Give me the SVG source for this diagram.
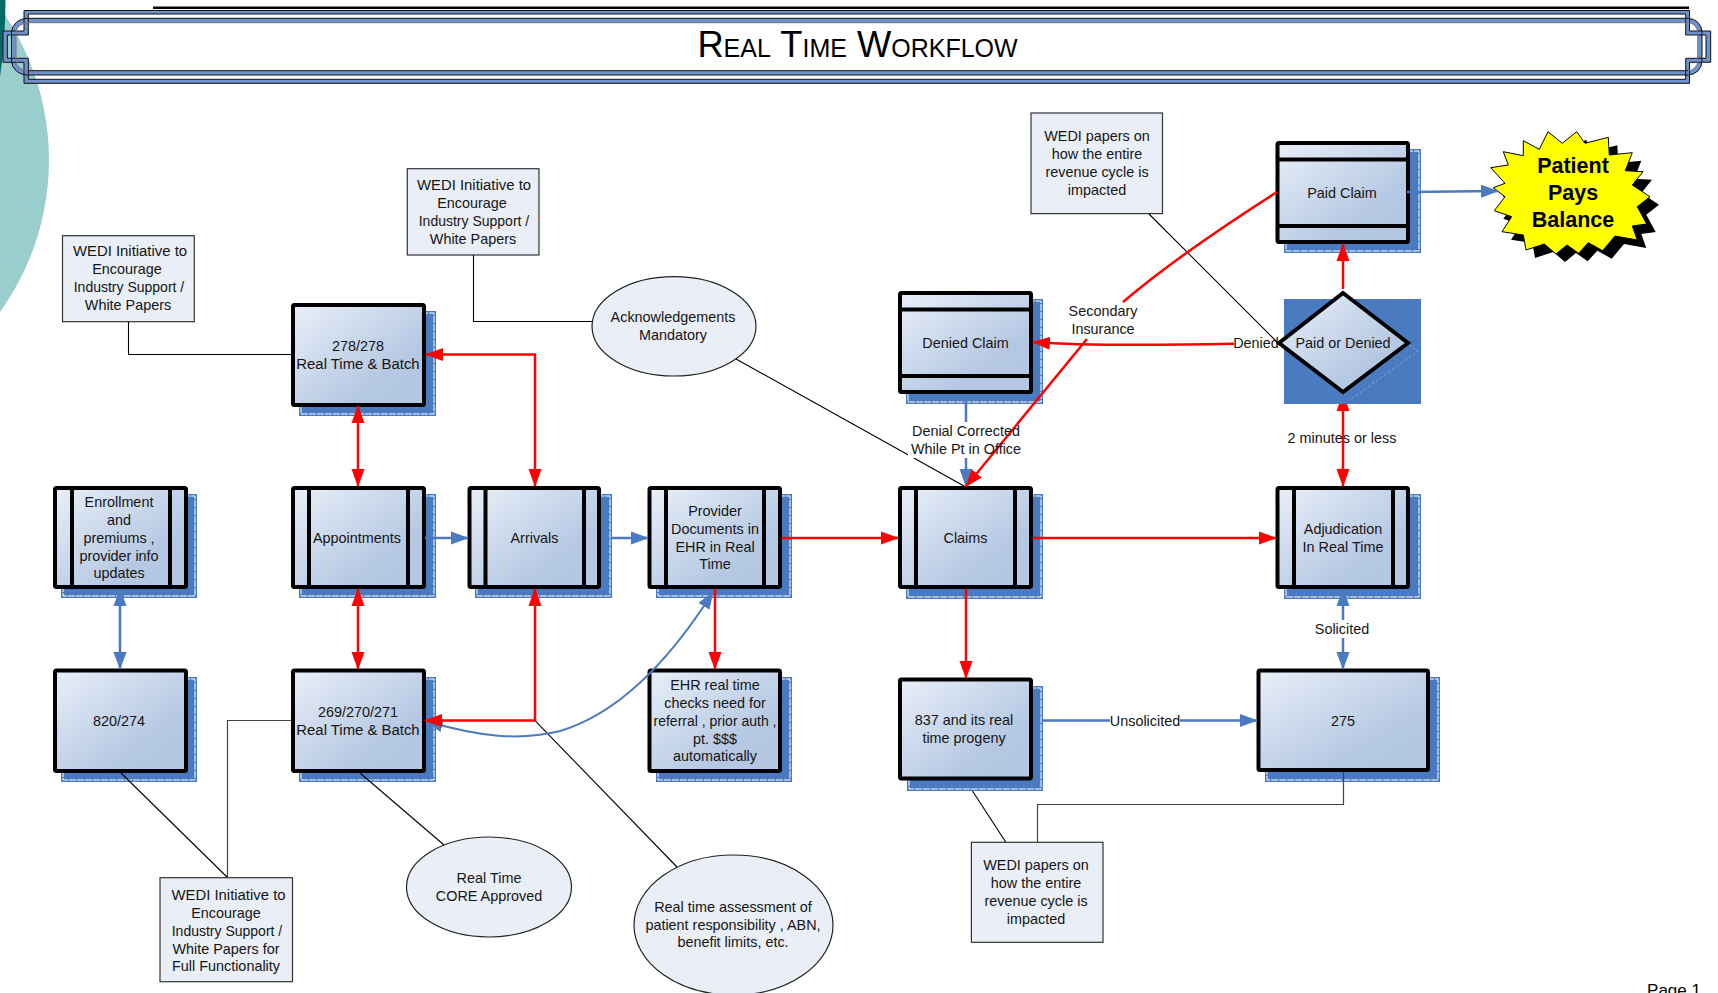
<svg xmlns="http://www.w3.org/2000/svg" width="1718" height="993" viewBox="0 0 1718 993">
<style>
text{font-family:"Liberation Sans",Arial,sans-serif;font-size:14.4px;fill:#151515;text-anchor:middle;transform:translateY(-0.3px)}
.wide{font-size:14.9px}
.nar{font-size:14px}
.star{font-size:21.5px;font-weight:bold;fill:#000;transform:none}
.box{fill:url(#g);stroke:#000;stroke-width:4}
.sh{fill:#4A7ABF}
.da{fill:none;stroke:#fff;stroke-width:1;stroke-dasharray:7 1}
.div{stroke:#000;stroke-width:4;fill:none}
.note{fill:#E9EEF7;stroke:#333;stroke-width:1.2}
.ell{fill:#E9EEF7;stroke:#222;stroke-width:1.2}
.r{fill:none;stroke:#F00;stroke-width:2.5}
.b{fill:none;stroke:#4A7ABF;stroke-width:2.5}
.t{fill:none;stroke:#000;stroke-width:1.1}
.gy{fill:none;stroke:#444;stroke-width:1.2}
.wb{fill:#fff}
</style>
<defs>
<linearGradient id="g" x1="0" y1="0" x2="1" y2="1"><stop offset="0" stop-color="#E9EFF8"/><stop offset="0.7" stop-color="#B5C8E3"/><stop offset="1" stop-color="#B3C7E2"/></linearGradient>
<marker id="ar" markerUnits="userSpaceOnUse" markerWidth="18" markerHeight="14" viewBox="0 0 18 14" refX="17" refY="7" orient="auto-start-reverse"><path d="M0,0.5 L18,7 L0,13.5 Z" fill="#F00"/></marker>
<marker id="ab" markerUnits="userSpaceOnUse" markerWidth="18" markerHeight="14" viewBox="0 0 18 14" refX="17" refY="7" orient="auto-start-reverse"><path d="M0,0.5 L18,7 L0,13.5 Z" fill="#4A7ABF"/></marker>
</defs>
<rect width="1718" height="993" fill="#fff"/>
<g id="background">
<circle cx="-211" cy="160" r="260" fill="#9BCFCE"/>
<path d="M0,0 H5.5 Q5.5,40 0,77 Z" fill="#006B66"/>
</g>
<g id="title">
<path d="M153,7.8 H1689" stroke="#000" stroke-width="2.4" fill="none"/>
<path fill="#6F92CB" fill-rule="evenodd" d="M24,10.5 H1689.5 V31 H1710.7 V62.3 H1689.5 V83.3 H24 V62.3 H3 V31 H24 Z M28.3,14 V35 H7.3 V58.3 H28.3 V79.3 H1685.7 V58.3 H1706 V35 H1685.7 V14 Z"/>
<path fill="#6F92CB" fill-rule="evenodd" d="M28,18.3 H1688 A14,14 0 0 1 1702,32.3 V61 A14,14 0 0 1 1688,75 H28 A16.5,14 0 0 1 11.5,61 V32.3 A16.5,14 0 0 1 28,18.3 Z M28,22.7 A12,10 0 0 0 16,32.7 V60.7 A12,10 0 0 0 28,70.7 H1688 A9.7,10 0 0 0 1697.7,60.7 V32.7 A9.7,10 0 0 0 1688,22.7 Z"/>
<path fill="none" stroke="#111" stroke-width="1" d="M24,10.5 H1689.5 V31 H1710.7 V62.3 H1689.5 V83.3 H24 V62.3 H3 V31 H24 Z M28.3,14 V35 H7.3 V58.3 H28.3 V79.3 H1685.7 V58.3 H1706 V35 H1685.7 V14 Z"/>
<path fill="none" stroke="#111" stroke-width="1" d="M28,18.3 H1688 A14,14 0 0 1 1702,32.3 V61 A14,14 0 0 1 1688,75 H28 A16.5,14 0 0 1 11.5,61 V32.3 A16.5,14 0 0 1 28,18.3 Z"/>
<path fill="none" stroke="#777" stroke-width="1" d="M28,22.7 H1688 A9.7,10 0 0 1 1697.7,32.7 V60.7 A9.7,10 0 0 1 1688,70.7 M28,22.7 A12,10 0 0 0 16,32.7 V60.7 A12,10 0 0 0 28,70.7"/>
<path fill="none" stroke="#111" stroke-width="1" d="M28,70.7 H1688"/>
<text x="857.500" y="57" style="font-size:36.3px;font-variant:small-caps;fill:#000;transform:none">Real Time Workflow</text>
</g>

<g id="n-enrollment"><rect class="sh" x="61" y="494" width="136" height="104"/><rect class="da" x="63" y="496" width="132" height="100"/><rect class="box" x="55" y="488" width="131" height="99" rx="1.5"/><path class="div" d="M72,488V587M170,488V587"/><text x="119" y="507">Enrollment</text><text x="119" y="525">and</text><text x="119" y="543">premiums ,</text><text x="119" y="561">provider info</text><text x="119" y="578">updates</text></g>
<g id="n-820"><rect class="sh" x="61" y="677" width="136" height="105"/><rect class="da" x="63" y="679" width="132" height="101"/><rect class="box" x="55" y="670.500" width="131" height="100.500" rx="1.5"/><text x="119" y="726">820/274</text></g>
<g id="n-278"><rect class="sh" x="299" y="311" width="137" height="105"/><rect class="da" x="301" y="313" width="133" height="101"/><rect class="box" x="293" y="305" width="131" height="100" rx="1.5"/><text x="358" y="351">278/278</text><text class="wide" x="358" y="369">Real Time &amp; Batch</text></g>
<g id="n-appointments"><rect class="sh" x="299" y="494" width="137" height="104"/><rect class="da" x="301" y="496" width="133" height="100"/><rect class="box" x="293" y="488" width="131" height="99" rx="1.5"/><path class="div" d="M309,488V587M408,488V587"/><text x="357" y="543">Appointments</text></g>
<g id="n-269"><rect class="sh" x="299" y="677" width="137" height="105"/><rect class="da" x="301" y="679" width="133" height="101"/><rect class="box" x="293" y="670.500" width="131" height="100.500" rx="1.5"/><text x="358" y="717">269/270/271</text><text class="wide" x="358" y="735">Real Time &amp; Batch</text></g>
<g id="n-arrivals"><rect class="sh" x="475" y="494" width="137" height="104"/><rect class="da" x="477" y="496" width="133" height="100"/><rect class="box" x="469.500" y="488" width="129.500" height="99" rx="1.5"/><path class="div" d="M485.500,488V587M584,488V587"/><text x="534.500" y="543">Arrivals</text></g>
<g id="n-provider"><rect class="sh" x="656" y="494" width="136" height="104"/><rect class="da" x="658" y="496" width="132" height="100"/><rect class="box" x="649.500" y="488" width="130.500" height="99" rx="1.5"/><path class="div" d="M666,488V587M764,488V587"/><text x="715" y="516">Provider</text><text x="715" y="534">Documents in</text><text x="715" y="552">EHR in Real</text><text x="715" y="569">Time</text></g>
<g id="n-ehr"><rect class="sh" x="656" y="677" width="136" height="105"/><rect class="da" x="658" y="679" width="132" height="101"/><rect class="box" x="649.500" y="670.500" width="130.500" height="100.500" rx="1.5"/><text x="715" y="690">EHR real time</text><text x="715" y="708">checks need for</text><text class="nar" x="715" y="726">referral , prior auth ,</text><text x="715" y="744">pt. $$$</text><text x="715" y="761">automatically</text></g>
<g id="n-denied"><rect class="sh" x="906" y="299" width="137" height="105"/><rect class="da" x="908" y="301" width="133" height="101"/><rect class="box" x="900" y="293" width="131" height="99" rx="1.5"/><path class="div" d="M900,309.500H1031M900,376H1031"/><text x="965.500" y="348">Denied Claim</text></g>
<g id="n-claims"><rect class="sh" x="906" y="494" width="137" height="105"/><rect class="da" x="908" y="496" width="133" height="101"/><rect class="box" x="900" y="488" width="131" height="99" rx="1.5"/><path class="div" d="M916,488V587M1015,488V587"/><text x="965.500" y="543">Claims</text></g>
<g id="n-837"><rect class="sh" x="907" y="686" width="136" height="105"/><rect class="da" x="909" y="688" width="132" height="101"/><rect class="box" x="900" y="679.500" width="131" height="99" rx="1.5"/><text x="964" y="725">837 and its real</text><text x="964" y="743">time progeny</text></g>
<g id="n-paid"><rect class="sh" x="1284" y="149" width="137" height="104"/><rect class="da" x="1286" y="151" width="133" height="100"/><rect class="box" x="1277.500" y="143" width="130.500" height="99" rx="1.5"/><path class="div" d="M1278,159.500H1408M1278,226H1408"/><text x="1342" y="198">Paid Claim</text></g>
<g id="n-adjudication"><rect class="sh" x="1284" y="494" width="137" height="105"/><rect class="da" x="1286" y="496" width="133" height="101"/><rect class="box" x="1277.500" y="488" width="130.500" height="99" rx="1.5"/><path class="div" d="M1294,488V587M1393,488V587"/><text x="1343" y="534">Adjudication</text><text x="1343" y="552">In Real Time</text></g>
<g id="n-275"><rect class="sh" x="1265" y="677" width="175" height="105"/><rect class="da" x="1267" y="679" width="171" height="101"/><rect class="box" x="1258.500" y="670.500" width="169.500" height="99.500" rx="1.5"/><text x="1343" y="726">275</text></g>
<g id="n-wedi1"><rect class="note" x="62.500" y="235.700" width="131.800" height="86"/><text class="wide" x="130" y="256">WEDI Initiative to</text><text x="127" y="274">Encourage</text><text class="nar" x="129" y="292">Industry Support /</text><text x="128" y="310">White Papers</text></g>
<g id="n-wedi2"><rect class="note" x="407.300" y="168.700" width="131.700" height="86.300"/><text class="wide" x="474" y="190">WEDI Initiative to</text><text x="472" y="208">Encourage</text><text class="nar" x="474" y="226">Industry Support /</text><text x="473" y="244">White Papers</text></g>
<g id="n-wedi3"><rect class="note" x="1031" y="113" width="131.500" height="100.600"/><text x="1097" y="141">WEDI papers on</text><text x="1097" y="159">how the entire</text><text x="1097" y="177">revenue cycle is</text><text x="1097" y="195">impacted</text></g>
<g id="n-wedi4"><rect class="note" x="160" y="877.700" width="132.500" height="104"/><text class="wide" x="228.500" y="900">WEDI Initiative to</text><text x="226" y="918">Encourage</text><text class="nar" x="227" y="936">Industry Support /</text><text x="226" y="954">White Papers for</text><text x="226" y="971">Full Functionality</text></g>
<g id="n-wedi5"><rect class="note" x="971.400" y="842.300" width="131.600" height="100"/><text x="1036" y="870">WEDI papers on</text><text x="1036" y="888">how the entire</text><text x="1036" y="906">revenue cycle is</text><text x="1036" y="924">impacted</text></g>
<g id="n-ack"><ellipse class="ell" cx="674" cy="326.300" rx="82" ry="49.700"/><text x="673" y="322.700">Acknowledgements</text><text x="673" y="340">Mandatory</text></g>
<g id="n-core"><ellipse class="ell" cx="489" cy="887" rx="82.500" ry="50"/><text x="489" y="883.700">Real Time</text><text x="489" y="901">CORE Approved</text></g>
<g id="n-assess"><ellipse class="ell" cx="733.500" cy="925" rx="99.500" ry="70"/><text x="733" y="912">Real time assessment of</text><text x="733" y="930">patient responsibility , ABN,</text><text x="733" y="947">benefit limits, etc.</text></g>
<g id="n-star">
<polygon transform="translate(9,8)" fill="#000" points="1548,131.700 1562.300,143.300 1576.700,131.700 1585,143.300 1608.300,137.300 1609.300,155 1632.300,152.700 1625.300,170.700 1643,171.700 1632.300,185 1650,196.700 1637.300,206.700 1646.700,224 1632.300,226 1637.300,240 1615,236 1602.700,250.700 1588.300,242.700 1578.700,253.300 1567,245 1556,254 1544.300,244 1526,250 1523.300,235 1502,231.700 1511.700,216.700 1494.300,210.700 1505,196.700 1493.300,187.700 1505,183.300 1490.700,167.700 1508.300,165 1503.300,151.700 1523.300,155.700 1523.300,140.700 1539.300,149.300"/>
<polygon fill="#FF0" stroke="#000" stroke-width="1" points="1548,131.700 1562.300,143.300 1576.700,131.700 1585,143.300 1608.300,137.300 1609.300,155 1632.300,152.700 1625.300,170.700 1643,171.700 1632.300,185 1650,196.700 1637.300,206.700 1646.700,224 1632.300,226 1637.300,240 1615,236 1602.700,250.700 1588.300,242.700 1578.700,253.300 1567,245 1556,254 1544.300,244 1526,250 1523.300,235 1502,231.700 1511.700,216.700 1494.300,210.700 1505,196.700 1493.300,187.700 1505,183.300 1490.700,167.700 1508.300,165 1503.300,151.700 1523.300,155.700 1523.300,140.700 1539.300,149.300"/>
<text class="star" x="1573" y="173">Patient</text><text class="star" x="1573" y="200">Pays</text><text class="star" x="1573" y="227">Balance</text>
</g>

<g id="connectors">
<path class="t" d="M128.500,322V354.500H291"/>
<path class="t" d="M473.500,255V321.500H592"/>
<path class="t" d="M736,359L964,486"/>
<path class="t" d="M1149,214L1278,343"/>
<path class="gy" d="M291,720.500H227.500V878"/>
<path class="t" d="M121,773L227,877" stroke-width="1.4"/>
<path class="t" d="M360,773L444,845"/>
<path class="t" d="M535,720.600L677,867"/>
<path class="t" d="M972.500,791L1005.700,842"/>
<path class="gy" d="M1343.500,772V804.500H1037.500V842"/>
<path class="b" marker-start="url(#ab)" marker-end="url(#ab)" d="M120,589V669"/>
<path class="b" marker-end="url(#ab)" d="M425,538H468"/>
<path class="b" marker-end="url(#ab)" d="M611,538H648"/>
<path class="b" marker-end="url(#ab)" d="M1043,720.600H1257"/>
<path class="b" marker-start="url(#ab)" marker-end="url(#ab)" d="M1343,589V669"/>
<path class="b" marker-end="url(#ab)" d="M1407,192L1498,191"/>
<path class="b" marker-end="url(#ab)" d="M966,394V486"/>
<path class="b" style="stroke-width:2" marker-start="url(#ab)" marker-end="url(#ab)" d="M426,721C480,737 520,741 560,731C620,713 670,660 713,592"/>
<rect class="wb" x="908" y="422" width="116" height="36"/>
<rect class="wb" x="1110" y="712" width="70" height="18"/>
<rect class="wb" x="1312" y="620" width="62" height="18"/>
<rect class="wb" x="1283" y="429" width="120" height="18"/>
<path class="r" marker-start="url(#ar)" marker-end="url(#ar)" d="M358,589V669"/>
<path class="r" marker-start="url(#ar)" marker-end="url(#ar)" d="M358,406V486"/>
<path class="r" marker-start="url(#ar)" marker-end="url(#ar)" d="M426,354.500H535V486"/>
<path class="r" marker-start="url(#ar)" marker-end="url(#ar)" d="M535,589V720.600H425"/>
<path class="r" marker-end="url(#ar)" d="M782,538H898"/>
<path class="r" marker-end="url(#ar)" d="M1033,538H1276"/>
<path class="r" marker-end="url(#ar)" d="M715,589V669"/>
<path class="r" marker-end="url(#ar)" d="M966,589V678"/>
<path class="r" marker-start="url(#ar)" marker-end="url(#ar)" d="M1343,394V486"/>
<path class="r" marker-end="url(#ar)" d="M1343,289V244"/>
<path class="r" marker-end="url(#ar)" d="M1234,343.700C1150,345.500 1080,345.500 1033,342"/>
<rect class="wb" x="1066" y="303" width="74" height="35"/>
<path class="r" d="M1277,192C1230,222 1170,262 1123,302"/>
<path class="r" marker-end="url(#ar)" d="M1087,339L966,486.500"/>
</g>
<g id="n-decision"><rect class="sh" x="1284" y="299" width="137" height="105"/><path d="M1343,299L1418,351L1350,400" fill="none" stroke="#fff" stroke-opacity=".4" stroke-width=".8" stroke-dasharray="3 2"/><polygon points="1343,293 1408,343 1343,392 1279,343" fill="url(#g)" stroke="#000" stroke-width="4"/><text x="1343" y="348">Paid or Denied</text></g>
<g id="labels">
<text x="1103" y="316">Secondary</text><text x="1103" y="334">Insurance</text>
<text x="966" y="436">Denial Corrected</text><text x="966" y="454">While Pt in Office</text>
<text x="1342" y="443">2 minutes or less</text>
<text x="1342" y="634">Solicited</text>
<text x="1145" y="726">Unsolicited</text>
<text x="1256" y="348">Denied</text>
<text x="1674" y="996" style="font-size:17px;fill:#000">Page 1</text>
</g>
</svg>
